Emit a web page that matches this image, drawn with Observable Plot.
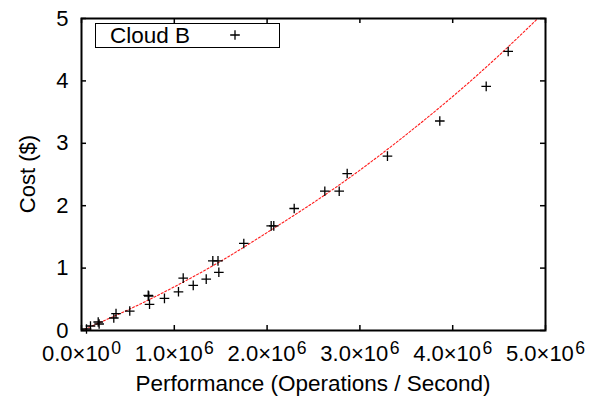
<!DOCTYPE html>
<html>
<head>
<meta charset="utf-8">
<script src="https://cdn.jsdelivr.net/npm/d3@7"></script>
<script src="https://cdn.jsdelivr.net/npm/@observablehq/plot@0.6"></script>
<style>
  html, body { margin: 0; padding: 0; background: #fff; }
  #chart svg { display: block; }
</style>
</head>
<body>
<div id="chart"></div>
<script>
// Measured throughput (operations / second) and cost ($) for Cloud B
const perf = [
  0.054e6, 0.097e6, 0.180e6, 0.190e6, 0.348e6, 0.372e6, 0.520e6, 0.719e6,
  0.725e6, 0.733e6, 0.894e6, 1.045e6, 1.096e6, 1.204e6, 1.344e6, 1.415e6,
  1.471e6, 1.480e6, 1.749e6, 2.044e6, 2.072e6, 2.292e6, 2.622e6, 2.777e6,
  2.863e6, 3.297e6, 3.861e6, 4.361e6, 4.598e6
];
const cost = [
  0.024, 0.072, 0.136, 0.104, 0.200, 0.272, 0.312, 0.563,
  0.550, 0.420, 0.515, 0.620, 0.840, 0.723, 0.824, 1.115,
  1.115, 0.933, 1.395, 1.677, 1.677, 1.955, 2.232, 2.232,
  2.515, 2.795, 3.357, 3.912, 4.472
];

// Fitted cost curve, sampled along the performance axis
const fitPerf = [0, 0.5e6, 1.0e6, 1.5e6, 2.0e6, 2.5e6, 3.0e6, 3.5e6, 4.0e6, 4.5e6, 5.0e6];
const fitCost = [0, 0.33, 0.70, 1.11, 1.57, 2.05, 2.57, 3.14, 3.75, 4.41, 5.12];

// Axis ticks and labels
const xTicks = [0, 1e6, 2e6, 3e6, 4e6, 5e6];
const yTicks = [0, 1, 2, 3, 4, 5];
const seriesName = "Cloud B";
const xTitle = "Performance (Operations / Second)";
const yTitle = "Cost ($)";

const W = 601, H = 403;
const mL = 81, mR = 56, mT = 18, mB = 73;
const innerW = W - mL - mR, innerH = H - mT - mB;
const FONT = "'Liberation Sans', Arial, Helvetica, sans-serif";
const tickLen = 5;
const dotR = 3.2;

const points = perf.map((x, i) => ({x, y: cost[i]}));
const fit = fitPerf.map((x, i) => ({x, y: fitCost[i]}));

// "1.0×10^6" style labels; the exponent becomes a superscript below
function sci(v) {
  if (v === 0) return "0.0×10^0";
  const e = Math.floor(Math.log10(v));
  return (v / Math.pow(10, e)).toFixed(1) + "×10^" + e;
}

const chart = Plot.plot({
  width: W, height: H,
  marginLeft: mL, marginRight: mR, marginTop: mT, marginBottom: mB,
  style: {fontFamily: FONT, fontSize: "22px", background: "white", color: "black"},
  x: {domain: [0, 5e6]},
  y: {domain: [0, 5]},
  marks: [
    Plot.line(fit, {x: "x", y: "y", stroke: "#ff1a1a", strokeWidth: 1.1,
      strokeDasharray: "2,2", curve: "natural", clip: true}),
    Plot.dot(points, {x: "x", y: "y", symbol: "plus", r: dotR,
      stroke: "black", strokeWidth: 1.3}),
    // inward ticks on all four sides
    Plot.tickX(xTicks, {x: d => d, insetTop: innerH - tickLen, stroke: "black", strokeWidth: 1.5}),
    Plot.tickX(xTicks, {x: d => d, insetBottom: innerH - tickLen, stroke: "black", strokeWidth: 1.5}),
    Plot.tickY(yTicks, {y: d => d, insetRight: innerW - tickLen, stroke: "black", strokeWidth: 1.5}),
    Plot.tickY(yTicks, {y: d => d, insetLeft: innerW - tickLen, stroke: "black", strokeWidth: 1.5}),
    Plot.frame({stroke: "black", strokeWidth: 2}),
    Plot.axisX({ticks: xTicks, tickSize: 0, tickPadding: 15, tickFormat: sci, label: null}),
    Plot.axisY({ticks: yTicks, tickSize: 0, tickPadding: 13, tickFormat: d3.format("d"), label: null})
  ]
});

document.getElementById("chart").appendChild(chart);
const svg = d3.select(chart);

// superscript exponents on the x tick labels
svg.selectAll('g[aria-label="x-axis tick label"] text').each(function () {
  const [base, exp] = this.textContent.split("^");
  const t = d3.select(this);
  t.text(base);
  t.append("tspan").attr("dx", "0.08em").attr("dy", "-0.42em").attr("font-size", "0.8em").text(exp);
});

// axis titles
svg.append("text")
  .attr("x", mL + innerW / 2).attr("y", 391)
  .attr("text-anchor", "middle")
  .attr("font-family", FONT).attr("font-size", 22.5)
  .text(xTitle);
svg.append("text")
  .attr("transform", `translate(35,${mT + innerH / 2}) rotate(-90)`)
  .attr("text-anchor", "middle")
  .attr("font-family", FONT).attr("font-size", 22)
  .text(yTitle);

// legend box
const legend = svg.append("g");
legend.append("rect")
  .attr("x", 95.5).attr("y", 23.5).attr("width", 184).attr("height", 24)
  .attr("fill", "white").attr("stroke", "black").attr("stroke-width", 1);
legend.append("text")
  .attr("x", 110).attr("y", 43)
  .attr("text-anchor", "start")
  .attr("font-family", FONT).attr("font-size", 22.5)
  .text(seriesName);
legend.append("path")
  .attr("transform", "translate(235,35)")
  .attr("d", d3.symbol(d3.symbolPlus, Math.PI * dotR * dotR)())
  .attr("fill", "none").attr("stroke", "black").attr("stroke-width", 1.3);
</script>
</body>
</html>
